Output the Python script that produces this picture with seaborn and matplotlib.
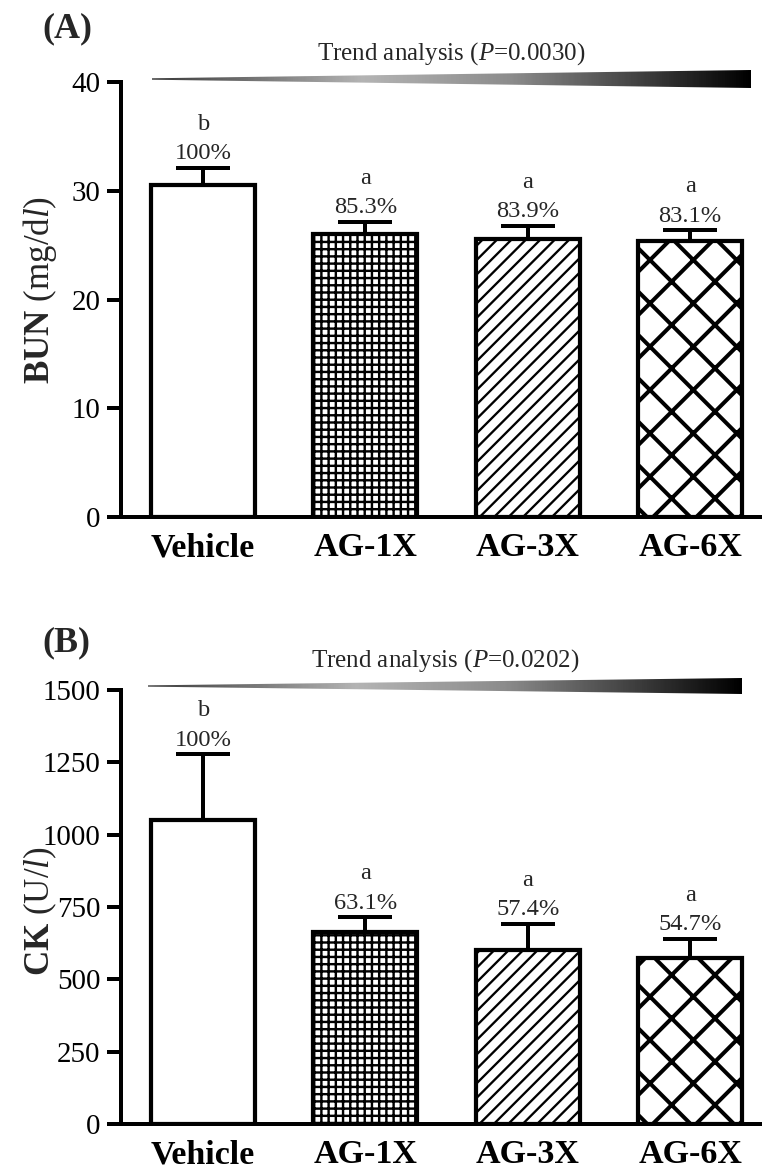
import numpy as np
import pandas as pd
import matplotlib
matplotlib.use("Agg")
import matplotlib.pyplot as plt
from matplotlib.colors import LinearSegmentedColormap
from matplotlib.patches import Polygon
import seaborn as sns

# ---------------- data ----------------
groups = ["Vehicle", "AG-1X", "AG-3X", "AG-6X"]
bun_mean = [30.5, 26.0, 25.6, 25.35]
bun_sem = [1.6, 1.15, 1.2, 1.0]
bun_letters = ["b", "a", "a", "a"]
bun_pct = ["100%", "85.3%", "83.9%", "83.1%"]
bun_ticks = [0, 10, 20, 30, 40]
bun_trend_p = "0.0030"

ck_mean = [1051, 663, 603, 575]
ck_sem = [227, 52, 89, 65]
ck_letters = ["b", "a", "a", "a"]
ck_pct = ["100%", "63.1%", "57.4%", "54.7%"]
ck_ticks = [0, 250, 500, 750, 1000, 1250, 1500]
ck_trend_p = "0.0202"

hatches = ["", "+++", "///", "x"]

# ---------------- style ----------------
DPI = 130
W, H = 777, 1168


def pt(px):
    return px * 72.0 / DPI


hatch_lw = [pt(1), pt(2.4), pt(2.3), pt(4.0)]

sns.set_theme(style="ticks")
plt.rcParams["font.family"] = ["Liberation Serif", "DejaVu Serif"]
plt.rcParams["mathtext.fontset"] = "custom"
plt.rcParams["mathtext.rm"] = "Liberation Serif"
plt.rcParams["mathtext.it"] = "Liberation Serif:italic"
plt.rcParams["mathtext.bf"] = "Liberation Serif:bold"
plt.rcParams["hatch.color"] = "black"
plt.rcParams["hatch.linewidth"] = pt(2.2)

fig = plt.figure(figsize=(W / DPI, H / DPI), dpi=DPI)


def rect(x0, y_top, x1, y_bot):
    return [x0 / W, 1 - y_bot / H, (x1 - x0) / W, (y_bot - y_top) / H]


cmap = LinearSegmentedColormap.from_list(
    "wedge", [(0.0, "#3a3a3a"), (0.35, "#b4b4b4"), (0.6, "#8c8c8c"), (1.0, "#000000")]
)


def wedge(x0, x1, yc, h):
    tax = fig.add_axes(rect(x0, yc - h / 2, x1, yc + h / 2))
    tax.set_axis_off()
    grad = np.linspace(0, 1, 600).reshape(1, -1)
    im = tax.imshow(grad, cmap=cmap, aspect="auto", extent=(0, 1, 0, 1),
                    interpolation="bilinear", vmin=0, vmax=1)
    tri = Polygon([[0, 0.46], [0, 0.54], [1, 1], [1, 0]], closed=True,
                  transform=tax.transAxes, facecolor="none", edgecolor="none")
    tax.add_patch(tri)
    im.set_clip_path(tri)
    tax.set_xlim(0, 1)
    tax.set_ylim(0, 1)


def panel(ax, means, sems, letters, pcts, ticks, ylabel, ylabel_y):
    df = pd.DataFrame({"group": groups, "value": means})
    sns.barplot(data=df, x="group", y="value", ax=ax, color="white",
                edgecolor="black", linewidth=pt(4.2), width=0.64,
                errorbar=None, saturation=1, zorder=2)
    bars = list(ax.patches)
    for patch, hp, hl in zip(bars, hatches, hatch_lw):
        patch.set_hatch(hp)
        if hasattr(patch, "set_hatch_linewidth"):
            patch.set_hatch_linewidth(hl)
    xs = [p.get_x() + p.get_width() / 2 for p in bars]
    ax.errorbar(xs, means, yerr=[np.zeros(len(means)), sems], fmt="none",
                ecolor="black", elinewidth=pt(4), capsize=pt(27),
                capthick=pt(4), zorder=1)
    for x, m, s, let, pc in zip(xs, means, sems, letters, pcts):
        ax.annotate(pc, xy=(x, m + s), xytext=(0, pt(8.5)),
                    textcoords="offset points", ha="center", va="baseline",
                    fontsize=pt(24.5), annotation_clip=False)
        ax.annotate(let, xy=(x, m + s), xytext=(0, pt(38)),
                    textcoords="offset points", ha="center", va="baseline",
                    fontsize=pt(24.5), annotation_clip=False)
    ax.set_xlim(-0.505, 3.43)
    ax.set_ylim(ticks[0], ticks[-1])
    ax.set_yticks(ticks)
    ax.set_xlabel("")
    ax.set_ylabel("")
    sns.despine(ax=ax)
    for side in ("left", "bottom"):
        ax.spines[side].set_linewidth(pt(4))
        ax.spines[side].set_color("black")
    ax.tick_params(axis="y", direction="out", length=pt(13.6), width=pt(4),
                   pad=pt(7), labelsize=pt(29), colors="black")
    ax.tick_params(axis="x", length=0, pad=pt(15), labelsize=pt(34),
                   colors="black")
    for lbl in ax.get_xticklabels():
        lbl.set_fontweight("bold")
    ax.set_facecolor("white")
    fig.text(40 / W, 1 - ylabel_y / H, ylabel, rotation=90, ha="center",
             va="center", fontsize=pt(35))


axA = fig.add_axes(rect(121, 82, 760, 517))
panel(axA, bun_mean, bun_sem, bun_letters, bun_pct, bun_ticks,
      r"$\mathbf{BUN}$ (mg/d$\mathit{l}$)", 290)

axB = fig.add_axes(rect(121, 690, 760, 1124))
panel(axB, ck_mean, ck_sem, ck_letters, ck_pct, ck_ticks,
      r"$\mathbf{CK}$ (U/$\mathit{l}$)", 911)

# trend wedges and texts
wedge(152, 751, 79, 18)
wedge(148, 742, 686, 16)
fig.text(451.5 / W, 1 - 60 / H, r"Trend analysis ($\mathit{P}$=" + bun_trend_p + ")",
         ha="center", va="baseline", fontsize=pt(25))
fig.text(445 / W, 1 - 667 / H, r"Trend analysis ($\mathit{P}$=" + ck_trend_p + ")",
         ha="center", va="baseline", fontsize=pt(25))

# panel letters
fig.text(42 / W, 1 - 37 / H, "(A)", fontweight="bold", fontsize=pt(36),
         ha="left", va="baseline")
fig.text(42 / W, 1 - 651 / H, "(B)", fontweight="bold", fontsize=pt(36),
         ha="left", va="baseline")

fig.savefig("out.png", dpi=DPI, facecolor="white")
